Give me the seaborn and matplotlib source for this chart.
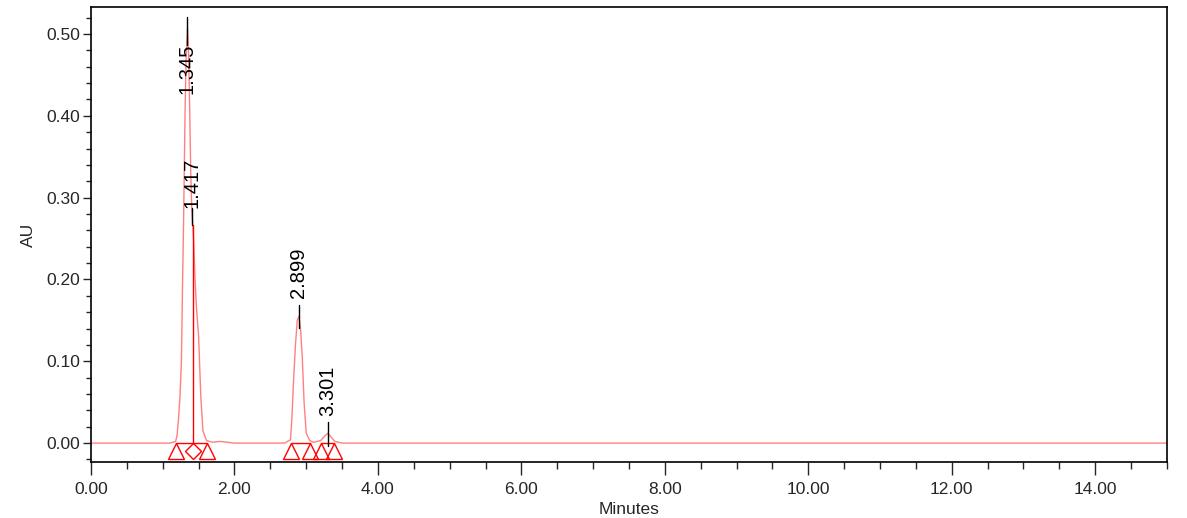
import matplotlib.pyplot as plt
import matplotlib.ticker as mticker
import pandas as pd
import seaborn as sns

# detector trace
TIME_MIN = [0.00, 1.10, 1.18, 1.20, 1.22, 1.24, 1.26, 1.275, 1.29, 1.31, 1.325, 1.345,
            1.36, 1.375, 1.39, 1.405, 1.417, 1.43, 1.45, 1.47, 1.50, 1.53, 1.56, 1.61,
            1.70, 1.80, 1.90, 2.00, 2.70, 2.78, 2.80, 2.82, 2.85, 2.875, 2.899, 2.92,
            2.945, 2.97, 3.00, 3.05, 3.10, 3.20, 3.25, 3.30, 3.35, 3.40, 3.50, 15.00]
ABSORBANCE = [0.000, 0.000, 0.002, 0.010, 0.030, 0.057, 0.100, 0.190, 0.270, 0.400, 0.470, 0.507,
              0.475, 0.410, 0.330, 0.285, 0.268, 0.250, 0.200, 0.165, 0.130, 0.057, 0.015, 0.003,
              0.001, 0.002, 0.001, 0.000, 0.000, 0.004, 0.030, 0.070, 0.120, 0.150, 0.155, 0.140,
              0.105, 0.050, 0.012, 0.003, 0.001, 0.003, 0.008, 0.012, 0.007, 0.002, 0.000, 0.000]

# integrated peaks
PEAK_RT = ["1.345", "1.417", "2.899", "3.301"]
PEAK_START = [1.183, 1.415, 2.789, 3.208]
PEAK_END = [1.415, 1.616, 3.059, 3.394]
DROP_LINE_T = [1.415]
DROP_LINE_H = [0.267]

# label placement (x, text centre y, tick line bottom, tick line top)
LABEL_LAYOUT = [
    (1.338, 0.457, 0.487, 0.521),
    (1.410, 0.318, 0.266, 0.287),
    (2.895, 0.208, 0.141, 0.169),
    (3.300, 0.064, -0.004, 0.026),
]

sns.set_theme(style="ticks")
plt.rcParams["font.family"] = ["Liberation Sans", "DejaVu Sans"]

trace = pd.DataFrame({"t": TIME_MIN, "au": ABSORBANCE})

fig = plt.figure(figsize=(11.87, 5.18), dpi=100)
ax = fig.add_axes([0.0767, 0.108, 0.9064, 0.8785])

sns.lineplot(data=trace, x="t", y="au", sort=False, estimator=None,
             color="#ff8080", linewidth=1.0, ax=ax)

base_y = 0.0
for t0, t1 in zip(PEAK_START, PEAK_END):
    ax.plot([t0, t1], [base_y, base_y], color="red", linewidth=1.0)
for t, h in zip(DROP_LINE_T, DROP_LINE_H):
    ax.plot([t, t], [base_y, h], color="red", linewidth=1.0)

# start / end markers; shared boundary gets a diamond
bounds = sorted(set(PEAK_START + PEAK_END))
shared = [b for b in bounds if b in PEAK_START and b in PEAK_END]
single = [b for b in bounds if b not in shared]
ax.plot(single, [-0.0092] * len(single), linestyle="none", marker="^", markersize=11.5,
        markerfacecolor="none", markeredgecolor="red", markeredgewidth=1.0)
ax.plot(shared, [-0.0092] * len(shared), linestyle="none", marker="D", markersize=8,
        markerfacecolor="none", markeredgecolor="red", markeredgewidth=1.0)

for label, (x, ty, l0, l1) in zip(PEAK_RT, LABEL_LAYOUT):
    ax.plot([x, x], [l0, l1], color="black", linewidth=1.0)
    ax.text(x, ty, label, rotation=90, ha="center", va="center", fontsize=14.5, color="black")

ax.set_xlim(0, 15)
ax.set_ylim(-0.0232, 0.533)
ax.xaxis.set_major_locator(mticker.MultipleLocator(2))
ax.xaxis.set_minor_locator(mticker.MultipleLocator(0.5))
ax.yaxis.set_major_locator(mticker.MultipleLocator(0.1))
ax.yaxis.set_minor_locator(mticker.MultipleLocator(0.02))
ax.xaxis.set_major_formatter(mticker.FormatStrFormatter("%.2f"))
ax.yaxis.set_major_formatter(mticker.FormatStrFormatter("%.2f"))
ax.tick_params(axis="x", which="major", length=9, width=1, labelsize=12.5, pad=5)
ax.tick_params(axis="x", which="minor", length=5, width=1)
ax.tick_params(axis="y", which="major", length=6, width=1, labelsize=12.5, pad=2)
ax.tick_params(axis="y", which="minor", length=3.5, width=1)
ax.set_xlabel("Minutes", fontsize=12.5, labelpad=4)
ax.set_ylabel("AU", fontsize=12.5, labelpad=7)
for side in ["top", "right", "left", "bottom"]:
    ax.spines[side].set_visible(True)
    ax.spines[side].set_linewidth(1.2)
    ax.spines[side].set_color("black")

fig.savefig("out.png", dpi=100)
